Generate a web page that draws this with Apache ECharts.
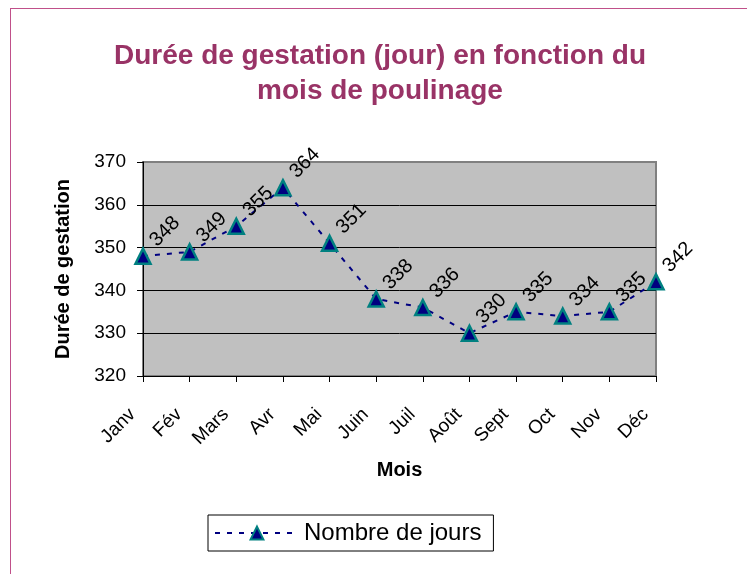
<!DOCTYPE html>
<html>
<head>
<meta charset="utf-8">
<script src="https://cdn.jsdelivr.net/npm/echarts@6/dist/echarts.min.js"></script>
<style>
html,body{margin:0;padding:0;background:#fff;}
#frame{position:absolute;left:10px;top:8px;width:745px;height:570px;border:1px solid #c0508a;box-sizing:border-box;}
#chart{position:absolute;left:0;top:0;width:747px;height:574px;}
</style>
</head>
<body>
<div id="frame"></div>
<div id="chart"></div>
<script>
const months = ['Janv','Fév','Mars','Avr','Mai','Juin','Juil','Août','Sept','Oct','Nov','Déc'];
const days = [348,349,355,364,351,338,336,330,335,334,335,342];
const yTicks = {min:320, max:370, interval:10};
const seriesName = 'Nombre de jours';
const titleText = 'Durée de gestation (jour) en fonction du\nmois de poulinage';

const chart = echarts.init(document.getElementById('chart'), null, {renderer:'canvas'});
const font = 'Liberation Sans, Arial, sans-serif';
chart.setOption({
  animation:false,
  textStyle:{fontFamily:font},
  title:{
    text:titleText,
    left:375, top:34, textAlign:'center',
    textStyle:{fontFamily:font, fontSize:28, fontWeight:'bold', color:'#993366', lineHeight:35}
  },
  legend:{
    left:208, top:515,
    padding:[6,12,6,6],
    borderColor:'#000', borderWidth:1,
    itemWidth:84, itemHeight:16,
    textStyle:{fontFamily:font, fontSize:24, color:'#000'},
    data:[seriesName]
  },
  grid:{
    left:143, right:91, top:162, bottom:198,
    show:true, backgroundColor:'#c0c0c0', borderColor:'#808080', borderWidth:2
  },
  xAxis:{
    type:'category', data:months, boundaryGap:false,
    name:'Mois', nameLocation:'middle', nameGap:84,
    nameTextStyle:{fontFamily:font, fontSize:20, fontWeight:'bold', color:'#000'},
    axisLine:{lineStyle:{color:'#000', width:1}},
    axisTick:{length:6, lineStyle:{color:'#000'}},
    axisLabel:{rotate:45, fontFamily:font, fontSize:19, color:'#000', margin:25, padding:[0,15,0,0]}
  },
  yAxis:{
    type:'value', min:yTicks.min, max:yTicks.max, interval:yTicks.interval,
    name:'Durée de gestation', nameLocation:'middle', nameGap:70,
    nameTextStyle:{fontFamily:font, fontSize:20, fontWeight:'bold', color:'#000'},
    axisLine:{show:true, lineStyle:{color:'#000', width:1}},
    axisTick:{show:true, length:6, lineStyle:{color:'#000'}},
    axisLabel:{fontFamily:font, fontSize:19, color:'#000', margin:17},
    splitLine:{show:true, lineStyle:{color:['#000','#000','#000','#000','#000','#808080'], width:1}}
  },
  series:[{
    name:seriesName, type:'line', data:days,
    symbol:'triangle', symbolSize:15,
    lineStyle:{color:'#000080', width:2, type:[5,7]},
    itemStyle:{color:'#000080', borderColor:'#008080', borderWidth:2.5},
    label:{
      show:true, position:'right', distance:0, rotate:45,
      align:'left', verticalAlign:'bottom', offset:[10,2],
      fontFamily:font, fontSize:20, color:'#000'
    }
  }]
});
</script>
</body>
</html>
